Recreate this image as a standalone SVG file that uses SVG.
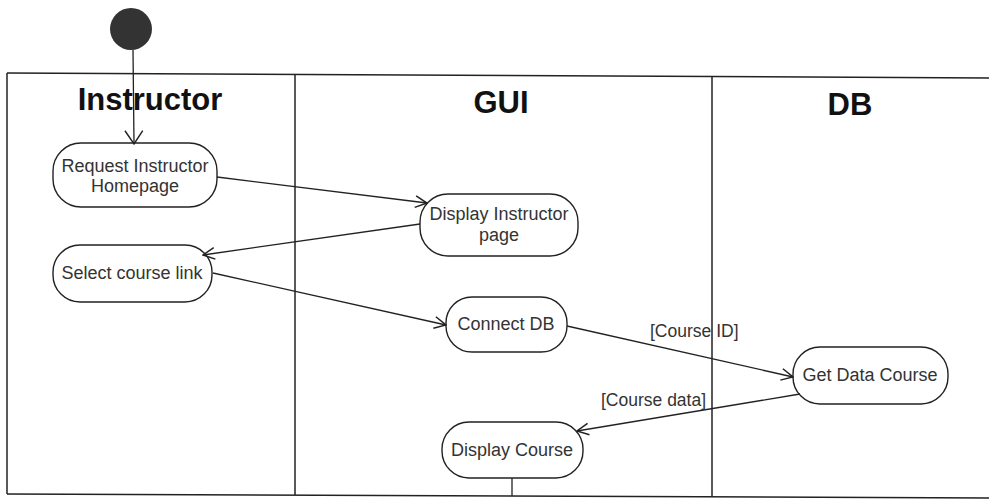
<svg xmlns="http://www.w3.org/2000/svg" width="989" height="500" viewBox="0 0 989 500">
<style>
.frame{fill:none;stroke:#222;stroke-width:1.5}
.node rect{fill:#fff;stroke:#222;stroke-width:1.4}
.node text{font-family:"Liberation Sans",Arial,sans-serif;font-size:18px;fill:#333;text-anchor:middle}
.title{font-family:"Liberation Sans",Arial,sans-serif;font-size:31px;font-weight:bold;fill:#111;text-anchor:middle}
.edge{fill:none;stroke:#222;stroke-width:1.3}
.lbl{font-family:"Liberation Sans",Arial,sans-serif;font-size:17.5px;fill:#333}
</style>
<defs>
<marker id="open" markerUnits="userSpaceOnUse" markerWidth="14" markerHeight="14" viewBox="0 0 12 12" refX="11" refY="6" orient="auto">
<path d="M1,1 L11,6 L1,11" fill="none" stroke="#222" stroke-width="1.3"/>
</marker>
<marker id="openBig" markerUnits="userSpaceOnUse" markerWidth="18" markerHeight="20" viewBox="0 0 14 18" refX="13" refY="9" orient="auto">
<path d="M1,1 L13,9 L1,17" fill="none" stroke="#222" stroke-width="1.3"/>
</marker>
</defs>
<rect width="989" height="500" fill="#fff"/>
<g id="swimlanes">
<line class="frame" x1="7" y1="73" x2="989" y2="78"/>
<line class="frame" x1="7" y1="494" x2="989" y2="498"/>
<line class="frame" x1="7" y1="73" x2="7" y2="494"/>
<line class="frame" x1="295" y1="74" x2="295" y2="495"/>
<line class="frame" x1="712" y1="76" x2="712" y2="497"/>
<text class="title" x="150" y="110">Instructor</text>
<text class="title" x="501" y="113">GUI</text>
<text class="title" x="850" y="115">DB</text>
</g>
<g id="initial">
<circle cx="131" cy="29" r="21" fill="#333"/>
</g>
<g id="n_request" class="node">
<rect x="53" y="143" width="164" height="64" rx="28" ry="28"/>
<text x="135" y="172">Request Instructor</text>
<text x="135" y="192">Homepage</text>
</g>
<g id="n_select" class="node">
<rect x="53" y="245" width="159" height="57" rx="27" ry="27"/>
<text x="132" y="279">Select course link</text>
</g>
<g id="n_display_page" class="node">
<rect x="420" y="194" width="158" height="62" rx="28" ry="28"/>
<text x="499" y="220">Display Instructor</text>
<text x="499" y="241">page</text>
</g>
<g id="n_connect" class="node">
<rect x="446" y="297" width="121" height="55" rx="26" ry="26"/>
<text x="506" y="330">Connect DB</text>
</g>
<g id="n_getdata" class="node">
<rect x="793" y="347" width="155" height="57" rx="27" ry="27"/>
<text x="870" y="381">Get Data Course</text>
</g>
<g id="n_display_course" class="node">
<rect x="442" y="422" width="141" height="56" rx="27" ry="27"/>
<text x="512" y="456">Display Course</text>
</g>
<g id="connectors">
<path class="edge" d="M133,50 L134,144" marker-end="url(#openBig)"/>
<path class="edge" d="M217,177 L427,203" marker-end="url(#open)"/>
<path class="edge" d="M420,224 L203,255" marker-end="url(#open)"/>
<path class="edge" d="M213,273 L446,325" marker-end="url(#open)"/>
<path class="edge" d="M567,326 L793,377" marker-end="url(#open)"/>
<path class="edge" d="M800,394 L577,431" marker-end="url(#open)"/>
<path class="edge" d="M512,478 L512,496"/>
<text class="lbl" x="650" y="337">[Course ID]</text>
<text class="lbl" x="601" y="406">[Course data]</text>
</g>
</svg>
